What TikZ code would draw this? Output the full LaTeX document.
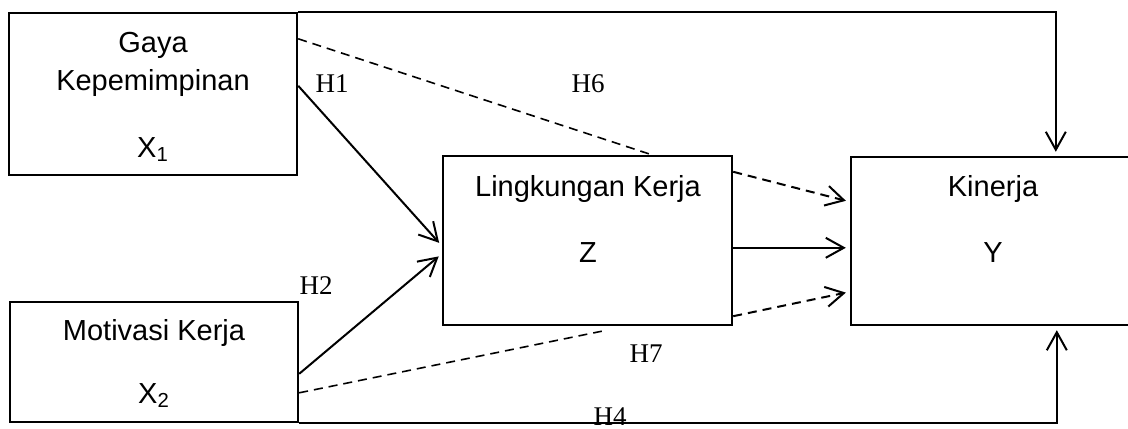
\documentclass[tikz,border=0pt]{standalone}
\usepackage{fontspec}
\setmainfont{Liberation Serif}
\newfontfamily\arialfont{Liberation Sans}
\usetikzlibrary{arrows.meta}
\begin{document}
\begin{tikzpicture}[x=0.5pt,y=-0.5pt,
  box/.style={draw,line width=1.2pt,inner sep=0pt},
  txt/.style={font=\arialfont\fontsize{14.5}{17}\selectfont,anchor=base,inner sep=0pt},
  hlab/.style={font=\fontsize{13.5}{15}\selectfont,anchor=base,inner sep=0pt},
  conn/.style={line width=1pt,-{Straight Barb[length=9pt,width=10pt,line width=1pt]},shorten >=2pt},
  dashline/.style={dash pattern=on 4.5pt off 3pt},
  thinline/.style={line width=0.8pt}]
\useasboundingbox (0,0) rectangle (1128,428);
% boxes
\node[box,minimum width=144pt,minimum height=81pt] (x1) at (153,94) {};
\node[box,minimum width=144pt,minimum height=60pt] (x2) at (154,362) {};
\node[box,minimum width=144.5pt,minimum height=84.5pt] (z) at (587.5,240.5) {};
\node[box,minimum width=142pt,minimum height=84pt] (y) at (993,241) {};
% texts
\node[txt] (t1) at (153,52) {Gaya};
\node[txt] (t2) at (153,90) {Kepemimpinan};
\node[txt] (t3) at (153,157) {X\textsubscript{1}};
\node[txt] (t4) at (154,340) {Motivasi Kerja};
\node[txt] (t5) at (154,403) {X\textsubscript{2}};
\node[txt] (t6) at (588,196) {Lingkungan Kerja};
\node[txt] (t7) at (588,262) {Z};
\node[txt] (t8) at (993,196) {Kinerja};
\node[txt] (t9) at (993,262) {Y};
% labels
\node[hlab] (h1) at (332,92) {H1};
\node[hlab] (h6) at (588,92) {H6};
\node[hlab] (h2) at (316,294) {H2};
\node[hlab] (h7) at (646,362) {H7};
\node[hlab] (h4) at (610,425) {H4};
% connectors
\draw[thinline,-{Straight Barb[length=9pt,width=10pt,line width=1pt]},shorten >=2pt]
  (x1.north east) -| ([xshift=103pt]y.north west);
\draw[thinline,-{Straight Barb[length=9pt,width=10pt,line width=1pt]},shorten >=2pt]
  (x2.south east) -| ([xshift=103.5pt]y.south west);
\draw[conn] ([yshift=-37pt]x1.north east) -- ([yshift=-45.5pt]z.north west);
\draw[conn] ([yshift=-36.5pt]x2.north east) -- ([yshift=-49.5pt]z.north west);
\draw[thinline,dashline] ([yshift=-13.5pt]x1.north east) -- ([xshift=105pt]z.north west);
\draw[thinline,dashline] ([yshift=-46pt]x2.north east) -- ([xshift=80pt,yshift=-2.5pt]z.south west);
\draw[conn,dashline] ([yshift=-8.5pt]z.north east) -- ([yshift=-23pt]y.north west);
\draw[conn] ([yshift=-46.5pt]z.north east) -- ([yshift=-46pt]y.north west);
\draw[conn,dashline] ([yshift=5pt]z.south east) -- ([yshift=-68pt]y.north west);
\end{tikzpicture}
\end{document}
